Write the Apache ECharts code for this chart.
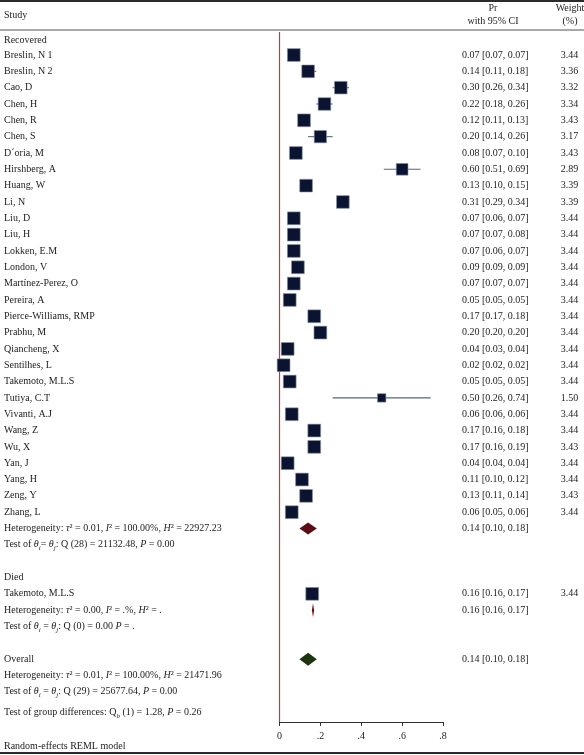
<!DOCTYPE html>
<html>
<head>
<meta charset="utf-8">
<script src="https://cdn.jsdelivr.net/npm/echarts@6/dist/echarts.min.js"></script>
<style>html,body{margin:0;padding:0;background:#fff}#c{width:584px;height:755px}</style>
</head>
<body>
<div id="c"></div>
<script>
// ---------------- DATA ----------------
const studies = ["Breslin, N 1","Breslin, N 2","Cao, D","Chen, H","Chen, R","Chen, S","D\u00b4oria, M","Hirshberg, A","Huang, W","Li, N","Liu, D","Liu, H","Lokken, E.M","London, V","Mart\u00ednez-Perez, O","Pereira, A","Pierce-Williams, RMP","Prabhu, M","Qiancheng, X","Sentilhes, L","Takemoto, M.L.S","Tutiya, C.T","Vivanti, A.J","Wang, Z","Wu, X","Yan, J","Yang, H","Zeng, Y","Zhang, L"];
const est = [0.07,0.14,0.30,0.22,0.12,0.20,0.08,0.60,0.13,0.31,0.07,0.07,0.07,0.09,0.07,0.05,0.17,0.20,0.04,0.02,0.05,0.50,0.06,0.17,0.17,0.04,0.11,0.13,0.06];
const lo  = [0.07,0.11,0.26,0.18,0.11,0.14,0.07,0.51,0.10,0.29,0.06,0.07,0.06,0.09,0.07,0.05,0.17,0.20,0.03,0.02,0.05,0.26,0.06,0.16,0.16,0.04,0.10,0.11,0.05];
const hi  = [0.07,0.18,0.34,0.26,0.13,0.26,0.10,0.69,0.15,0.34,0.07,0.08,0.07,0.09,0.07,0.05,0.18,0.20,0.04,0.02,0.05,0.74,0.06,0.18,0.19,0.04,0.12,0.14,0.06];
const weights = [3.44,3.36,3.32,3.34,3.43,3.17,3.43,2.89,3.39,3.39,3.44,3.44,3.44,3.44,3.44,3.44,3.44,3.44,3.44,3.44,3.44,1.50,3.44,3.44,3.43,3.44,3.44,3.43,3.44];

const diedStudy = "Takemoto, M.L.S";
const diedEst = 0.16, diedLo = 0.16, diedHi = 0.17, diedWeight = 3.44;

// summary diamonds: [estimate, lower, upper]
const recoveredSummary = [0.14, 0.10, 0.18];
const diedSummary = [0.16, 0.16, 0.17];
const overallSummary = [0.14, 0.10, 0.18];

const xTickLabels = ["0", ".2", ".4", ".6", ".8"];

// ---------------- LAYOUT (rows) ----------------
const Y_MIN = -1.35, Y_MAX = 40.85;
const ROW_RECOVERED = -0.9;
const studyRows = studies.map((s, i) => i);
const ROW_REC_HET = 29, ROW_REC_TEST = 30;
const ROW_DIED = 32, ROW_DIED_STUDY = 33, ROW_DIED_HET = 34, ROW_DIED_TEST = 35;
const ROW_OVERALL = 37, ROW_OV_HET = 38, ROW_OV_TEST = 39, ROW_GROUP = 40.25;

const FONT = '"Liberation Serif", "DejaVu Serif", serif';
const TXT = '#1e1b1c';
const FS = 10;

function fmt(e, l, h) { return e.toFixed(2) + ' [' + l.toFixed(2) + ', ' + h.toFixed(2) + ']'; }

// table text rows
const tableRows = [];
tableRows.push({ row: ROW_RECOVERED, left: 'Recovered' });
studies.forEach((s, i) => tableRows.push({ row: studyRows[i], left: s, ci: fmt(est[i], lo[i], hi[i]), w: weights[i].toFixed(2) }));
tableRows.push({ row: ROW_REC_HET, left: 'Heterogeneity: {i|\u03c4}\u00b2 = 0.01, {i|I}\u00b2 = 100.00%, {i|H}\u00b2 = 22927.23', ci: fmt(recoveredSummary[0], recoveredSummary[1], recoveredSummary[2]) });
tableRows.push({ row: ROW_REC_TEST, left: 'Test of {i|\u03b8}{s|i}= {i|\u03b8}{s|j}: Q (28) = 21132.48, {i|P} = 0.00' });
tableRows.push({ row: ROW_DIED, left: 'Died' });
tableRows.push({ row: ROW_DIED_STUDY, left: diedStudy, ci: fmt(diedEst, diedLo, diedHi), w: diedWeight.toFixed(2) });
tableRows.push({ row: ROW_DIED_HET, left: 'Heterogeneity: {i|\u03c4}\u00b2 = 0.00, {i|I}\u00b2 = .%, {i|H}\u00b2 = .', ci: fmt(diedSummary[0], diedSummary[1], diedSummary[2]) });
tableRows.push({ row: ROW_DIED_TEST, left: 'Test of {i|\u03b8}{s|i} = {i|\u03b8}{s|j}: Q (0) = 0.00 {i|P} = .' });
tableRows.push({ row: ROW_OVERALL, left: 'Overall', ci: fmt(overallSummary[0], overallSummary[1], overallSummary[2]) });
tableRows.push({ row: ROW_OV_HET, left: 'Heterogeneity: {i|\u03c4}\u00b2 = 0.01, {i|I}\u00b2 = 100.00%, {i|H}\u00b2 = 21471.96' });
tableRows.push({ row: ROW_OV_TEST, left: 'Test of {i|\u03b8}{s|i} = {i|\u03b8}{s|j}: Q (29) = 25677.64, {i|P} = 0.00' });
tableRows.push({ row: ROW_GROUP, left: 'Test of group differences: Q{s|b} (1) = 1.28, {i|P} = 0.26' });

const richStyles = {
  i: { fontStyle: 'italic', fontFamily: FONT, fontSize: FS, lineHeight: 14, fill: TXT },
  s: { fontStyle: 'italic', fontFamily: FONT, fontSize: 7, lineHeight: 8, verticalAlign: 'bottom', fill: TXT }
};

// ---------------- SERIES DATA ----------------
const ciData = studies.map((s, i) => [studyRows[i], lo[i], hi[i]]).concat([[ROW_DIED_STUDY, diedLo, diedHi]]);
const sqData = studies.map((s, i) => [studyRows[i], est[i], weights[i]]).concat([[ROW_DIED_STUDY, diedEst, diedWeight]]);
const diamondData = [
  [ROW_REC_HET, recoveredSummary[0], recoveredSummary[1], recoveredSummary[2], 0],
  [ROW_DIED_HET, diedSummary[0] + 0.004, diedSummary[1] + 0.001, diedSummary[2] - 0.003, 1],
  [ROW_OVERALL, overallSummary[0], overallSummary[1], overallSummary[2], 2]
];
const diamondColors = ['#5a0e14', '#6a1219', '#1d3410'];
const diamondHeights = [12, 14, 13];

const chart = echarts.init(document.getElementById('c'), null, { renderer: 'canvas' });

const option = {
  animation: false,
  backgroundColor: '#fff',
  grid: { left: 279.5, right: 141, top: 32, bottom: 33 },
  xAxis: {
    type: 'value', min: 0, max: 0.8, interval: 0.2,
    axisLine: { show: true, onZero: false, lineStyle: { color: '#333', width: 1 } },
    axisTick: { show: true, length: 4, lineStyle: { color: '#333' } },
    splitLine: { show: false },
    axisLabel: {
      color: TXT, fontFamily: FONT, fontSize: FS, margin: 9,
      formatter: (v) => xTickLabels[Math.round(v / 0.2)]
    }
  },
  yAxis: { type: 'value', inverse: true, min: Y_MIN - 0.06, max: Y_MAX, show: false },
  series: [
    {
      type: 'line', data: [[0, Y_MIN - 0.06], [0, Y_MAX]], symbol: 'none', silent: true,
      color: '#c8383a', itemStyle: { color: '#c8383a' },
      lineStyle: { color: '#c8383a', width: 1.2 }, z: 1
    },
    {
      type: 'custom', name: 'ci', data: ciData, encode: { x: [1, 2], y: 0 }, z: 2,
      renderItem: (params, api) => {
        const row = api.value(0);
        const a = api.coord([api.value(1), row]);
        const b = api.coord([api.value(2), row]);
        return { type: 'line', shape: { x1: a[0], y1: a[1], x2: b[0], y2: b[1] }, style: { stroke: '#56667d', lineWidth: 1.1 } };
      }
    },
    {
      type: 'custom', name: 'squares', data: sqData, encode: { x: 1, y: 0 }, z: 3,
      renderItem: (params, api) => {
        const p = api.coord([api.value(1), api.value(0)]);
        const s = 12.8 * Math.sqrt(api.value(2) / 3.44);
        return { type: 'rect', shape: { x: p[0] - s / 2, y: p[1] - s / 2, width: s, height: s }, style: { fill: '#0a1430', stroke: '#8a93a6', lineWidth: 0.6 } };
      }
    },
    {
      type: 'custom', name: 'diamonds', data: diamondData, encode: { x: 1, y: 0 }, z: 3,
      renderItem: (params, api) => {
        const row = api.value(0);
        const c = api.coord([api.value(1), row]);
        const l = api.coord([api.value(2), row]);
        const r = api.coord([api.value(3), row]);
        const k = api.value(4);
        const h = diamondHeights[k] / 2;
        return { type: 'polygon', shape: { points: [[l[0] - 0.5, c[1]], [c[0], c[1] - h], [r[0] + 0.5, c[1]], [c[0], c[1] + h]] }, style: { fill: diamondColors[k] } };
      }
    },
    {
      type: 'custom', name: 'table', data: tableRows.map(t => [t.row]), encode: { y: 0 }, z: 4, clip: false, silent: true,
      renderItem: (params, api) => {
        const t = tableRows[params.dataIndex];
        const y = api.coord([0, t.row])[1];
        const children = [];
        const base = { fontFamily: FONT, fontSize: FS, fill: TXT, verticalAlign: 'middle', lineHeight: 14 };
        children.push({ type: 'text', x: 4, y: y, style: Object.assign({}, base, { text: t.left, align: 'left', rich: richStyles }) });
        if (t.ci) children.push({ type: 'text', x: 462, y: y, style: Object.assign({}, base, { text: t.ci, align: 'left' }) });
        if (t.w) children.push({ type: 'text', x: 569.5, y: y, style: Object.assign({}, base, { text: t.w, align: 'center' }) });
        return { type: 'group', children: children };
      }
    }
  ],
  graphic: [
    { type: 'rect', shape: { x: 0, y: 0, width: 584, height: 2 }, style: { fill: '#2b2b2b' } },
    { type: 'rect', shape: { x: 0, y: 29.5, width: 584, height: 1 }, style: { fill: '#555' } },
    { type: 'rect', shape: { x: 0, y: 752, width: 584, height: 2 }, style: { fill: '#2b2b2b' } },
    { type: 'text', x: 4, y: 15, style: { text: 'Study', font: FS + 'px ' + FONT, fill: TXT, verticalAlign: 'middle', align: 'left' } },
    { type: 'text', x: 493, y: 8, style: { text: 'Pr', font: FS + 'px ' + FONT, fill: TXT, verticalAlign: 'middle', align: 'center' } },
    { type: 'text', x: 493, y: 21, style: { text: 'with 95% CI', font: FS + 'px ' + FONT, fill: TXT, verticalAlign: 'middle', align: 'center' } },
    { type: 'text', x: 570, y: 8, style: { text: 'Weight', font: FS + 'px ' + FONT, fill: TXT, verticalAlign: 'middle', align: 'center' } },
    { type: 'text', x: 570, y: 21, style: { text: '(%)', font: FS + 'px ' + FONT, fill: TXT, verticalAlign: 'middle', align: 'center' } },
    { type: 'text', x: 4, y: 746, style: { text: 'Random-effects REML model', font: FS + 'px ' + FONT, fill: TXT, verticalAlign: 'middle', align: 'left' } }
  ]
};
chart.setOption(option);
</script>
</body>
</html>
